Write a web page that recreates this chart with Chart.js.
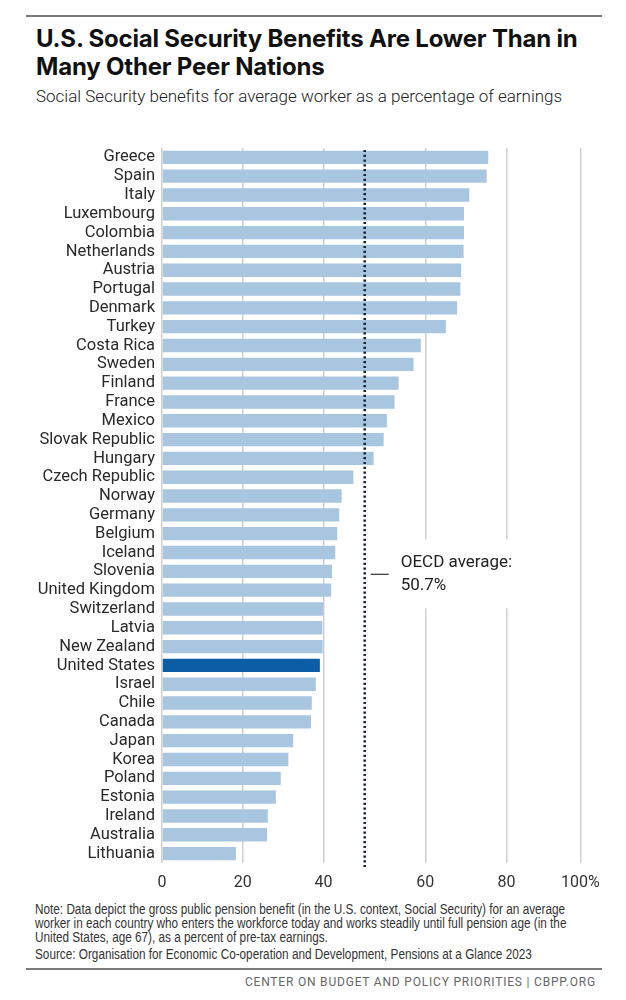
<!DOCTYPE html>
<html>
<head>
<meta charset="utf-8">
<script src="https://cdn.jsdelivr.net/npm/chart.js@4.4.1/dist/chart.umd.min.js"></script>
<style>
  body { margin: 0; background: #fff; width: 626px; height: 1000px; position: relative; overflow: hidden; font-family: Roboto, sans-serif; color: #222; }
  .rule { position: absolute; left: 26px; width: 576px; height: 2px; background: #7a7a7a; }
  #title { position: absolute; left: 36px; top: 25px; font: 700 24px/28px Inter, sans-serif; color: #111; white-space: nowrap; letter-spacing: -0.2px; }
  #sub { position: absolute; left: 36px; top: 86px; font: 300 17px/20px Roboto, sans-serif; color: #222; white-space: nowrap; }
  #wrap { position: absolute; left: 0; top: 131px; width: 626px; height: 770px; }
  .small { position: absolute; left: 35px; font: 14px/14px "Liberation Sans", sans-serif; color: #333; white-space: nowrap; transform: scaleX(0.84); transform-origin: left top; }
  #foot { position: absolute; right: 30px; top: 975px; font: 12px/14px Roboto, sans-serif; color: #666; white-space: nowrap; letter-spacing: 0.8px; }
</style>
</head>
<body>
<div class="rule" style="top:15px"></div>
<div id="title">U.S. Social Security Benefits Are Lower Than in<br>Many Other Peer Nations</div>
<div id="sub">Social Security benefits for average worker as a percentage of earnings</div>
<div id="wrap"><canvas id="benefitsChart"></canvas></div>
<div class="small" style="top:902px">Note: Data depict the gross public pension benefit (in the U.S. context, Social Security) for an average<br>worker in each country who enters the workforce today and works steadily until full pension age (in the<br>United States, age 67), as a percent of pre-tax earnings.</div>
<div class="small" style="top:947px">Source: Organisation for Economic Co-operation and Development, Pensions at a Glance 2023</div>
<div class="rule" style="top:968px"></div>
<div id="foot">CENTER ON BUDGET AND POLICY PRIORITIES | CBPP.ORG</div>

<script>
// Bruttoersatzquote fuer Durchschnittsverdiener, in Prozent
const countries = [
  'Greece', 'Spain', 'Italy', 'Luxembourg', 'Colombia', 'Netherlands', 'Austria',
  'Portugal', 'Denmark', 'Turkey', 'Costa Rica', 'Sweden', 'Finland', 'France',
  'Mexico', 'Slovak Republic', 'Hungary', 'Czech Republic', 'Norway', 'Germany',
  'Belgium', 'Iceland', 'Slovenia', 'United Kingdom', 'Switzerland', 'Latvia',
  'New Zealand', 'United States', 'Israel', 'Chile', 'Canada', 'Japan', 'Korea',
  'Poland', 'Estonia', 'Ireland', 'Australia', 'Lithuania'
];
const benefits = [
  80.8, 80.4, 76.1, 74.8, 74.8, 74.7, 74.1,
  73.9, 73.1, 70.3, 64.1, 62.3, 58.6, 57.6,
  55.7, 54.9, 52.4, 47.4, 44.5, 43.9,
  43.4, 42.9, 42.1, 41.9, 39.9, 39.7,
  39.8, 39.1, 38.1, 37.1, 36.9, 32.5, 31.3,
  29.4, 28.2, 26.2, 26.0, 18.3
];
const highlight = 'United States';
const oecdAverage = 50.7;

// tick labels, and where the reference puts their gridlines on the bar scale
const tickLabels = ['0', '20', '40', '60', '80', '100%'];
const tickAt = [0, 20, 40, 65.2, 85.3, 103.6];

const oecdNote = {
  id: 'oecdNote',
  beforeDatasetsDraw(chart) {
    const { ctx, scales: { x, y } } = chart;
    const xl = x.getPixelForValue(oecdAverage);
    const yc = y.getPixelForValue(countries.indexOf('Slovenia'));
    ctx.save();
    ctx.fillStyle = '#fff';
    ctx.fillRect(xl + 22, yc - 32, 140, 69);
    ctx.restore();
  },
  afterDatasetsDraw(chart) {
    const { ctx, chartArea, scales: { x, y } } = chart;
    const xl = x.getPixelForValue(oecdAverage) - 2;
    const yc = y.getPixelForValue(countries.indexOf('Slovenia'));
    ctx.save();
    ctx.strokeStyle = '#1c2733';
    ctx.lineWidth = 2.6;
    ctx.setLineDash([2.2, 2.6]);
    ctx.beginPath();
    ctx.moveTo(xl, chartArea.top + 2);
    ctx.lineTo(xl, chartArea.bottom + 4);
    ctx.stroke();
    ctx.setLineDash([]);
    ctx.lineWidth = 1.2;
    ctx.strokeStyle = '#333';
    ctx.beginPath();
    ctx.moveTo(xl + 6, yc + 3);
    ctx.lineTo(xl + 24, yc + 3);
    ctx.stroke();
    ctx.fillStyle = '#222';
    ctx.font = '17px Roboto';
    ctx.textBaseline = 'middle';
    ctx.fillText('OECD average:', xl + 36, yc - 9);
    ctx.fillText(oecdAverage + '%', xl + 36, yc + 14);
    ctx.restore();
  }
};

new Chart(document.getElementById('benefitsChart'), {
  type: 'bar',
  data: {
    labels: countries,
    datasets: [{
      data: benefits,
      backgroundColor: countries.map(c => c === highlight ? '#0b5ea6' : '#a8c6e0'),
      barPercentage: 0.71,
      categoryPercentage: 1
    }]
  },
  options: {
    indexAxis: 'y',
    responsive: true,
    maintainAspectRatio: false,
    animation: false,
    layout: { padding: { top: 6, right: 36, left: 0, bottom: 0 } },
    plugins: { legend: { display: false }, tooltip: { enabled: false } },
    scales: {
      x: {
        min: 0,
        max: 106,
        afterBuildTicks: s => { s.ticks = tickAt.map(v => ({ value: v })); },
        afterFit: s => { s.height = 38; },
        ticks: {
          autoSkip: false,
          maxRotation: 0,
          padding: 10,
          color: '#333',
          font: { family: 'Roboto', size: 16 },
          callback: (v, i) => tickLabels[i]
        },
        grid: { color: '#cfcfcf', lineWidth: 1.5, drawTicks: false },
        border: { display: false }
      },
      y: {
        afterFit: s => { s.width = 162; },
        ticks: {
          autoSkip: false,
          padding: 7,
          color: '#2a2a2a',
          font: { family: 'Roboto', size: 16.5 }
        },
        grid: { display: false, drawTicks: false },
        border: { display: false }
      }
    }
  },
  plugins: [oecdNote]
});
</script>
</body>
</html>
